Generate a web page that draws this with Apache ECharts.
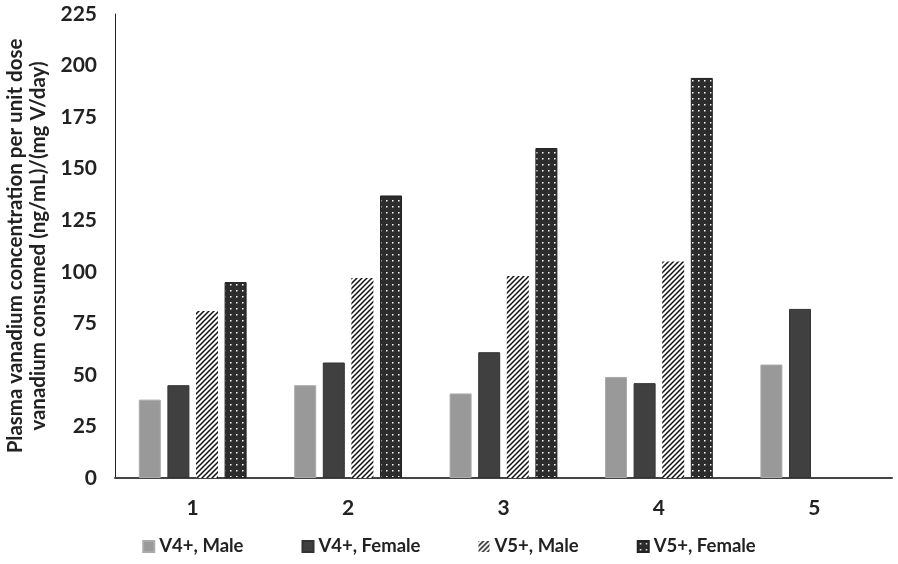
<!DOCTYPE html>
<html><head><meta charset="utf-8">
<script src="https://cdn.jsdelivr.net/npm/echarts@6/dist/echarts.min.js"></script>
<style>html,body{margin:0;padding:0;background:#fff}#c{width:898px;height:564px}</style>
</head><body><div id="c"></div>
<script>
const categories = ['1','2','3','4','5'];
const v4Male = [38, 45, 41, 49, 55];
const v4Female = [45, 56, 61, 46, 82];
const v5Male = [81, 97, 98, 105, null];
const v5Female = [95, 137, 160, 194, null];
const seriesNames = ['V4+, Male','V4+, Female','V5+, Male','V5+, Female'];
const yTitle = 'Plasma vanadium concentration per unit dose\nvanadium consumed (ng/mL)/(mg V/day)';

function hatch(){
  const c=document.createElement('canvas');c.width=5;c.height=5;
  const g=c.getContext('2d');g.fillStyle='#fff';g.fillRect(0,0,5,5);
  g.strokeStyle='#111';g.lineWidth=1.5;
  g.beginPath();g.moveTo(-1,6);g.lineTo(6,-1);g.moveTo(-4,4);g.lineTo(4,-4);g.moveTo(1,9);g.lineTo(9,1);g.stroke();
  return {image:c,repeat:'repeat'};
}
function dots(){
  const c=document.createElement('canvas');c.width=6;c.height=6;
  const g=c.getContext('2d');g.fillStyle='#2c2c2c';g.fillRect(0,0,6,6);
  g.fillStyle='#fff';g.fillRect(2,2,1.5,1.5);
  return {image:c,repeat:'repeat'};
}
const font='Lato';
const chart=echarts.init(document.getElementById('c'));
chart.setOption({
  animation:false,
  textStyle:{fontFamily:font},
  grid:{left:115,right:6,top:14,bottom:86,containLabel:false,outerBoundsMode:'none'},
  legend:{bottom:3,left:'center',itemWidth:11,itemHeight:11,itemGap:58,icon:'rect',
    textStyle:{fontFamily:font,fontWeight:'bold',fontSize:18.5,color:'#222'},
    data:seriesNames},
  xAxis:{type:'category',data:categories,
    axisLine:{lineStyle:{color:'#444',width:2}},axisTick:{show:false},
    axisLabel:{fontFamily:font,fontWeight:'bold',fontSize:21,color:'#222',margin:20}},
  yAxis:{type:'value',min:0,max:225,interval:25,
    name:yTitle,nameLocation:'middle',nameGap:64,nameRotate:90,
    nameTextStyle:{fontFamily:font,fontWeight:'bold',fontSize:20.5,color:'#222',lineHeight:23},
    axisLine:{show:true,lineStyle:{color:'#222',width:1}},axisTick:{show:false},splitLine:{show:false},
    axisLabel:{fontFamily:font,fontWeight:'bold',fontSize:21,color:'#222',margin:18}},
  series:[
    {name:seriesNames[0],type:'bar',data:v4Male,barWidth:22,barGap:'30%',barCategoryGap:'30%',itemStyle:{color:'#999999',borderColor:'#aaa',borderWidth:1}},
    {name:seriesNames[1],type:'bar',data:v4Female,barWidth:22,barGap:'30%',itemStyle:{color:'#404040',borderColor:'#333',borderWidth:1}},
    {name:seriesNames[2],type:'bar',data:v5Male,barWidth:22,barGap:'30%',itemStyle:{color:hatch()}},
    {name:seriesNames[3],type:'bar',data:v5Female,barWidth:22,barGap:'30%',itemStyle:{color:dots(),borderColor:'#222',borderWidth:1}}
  ]
});
</script></body></html>
